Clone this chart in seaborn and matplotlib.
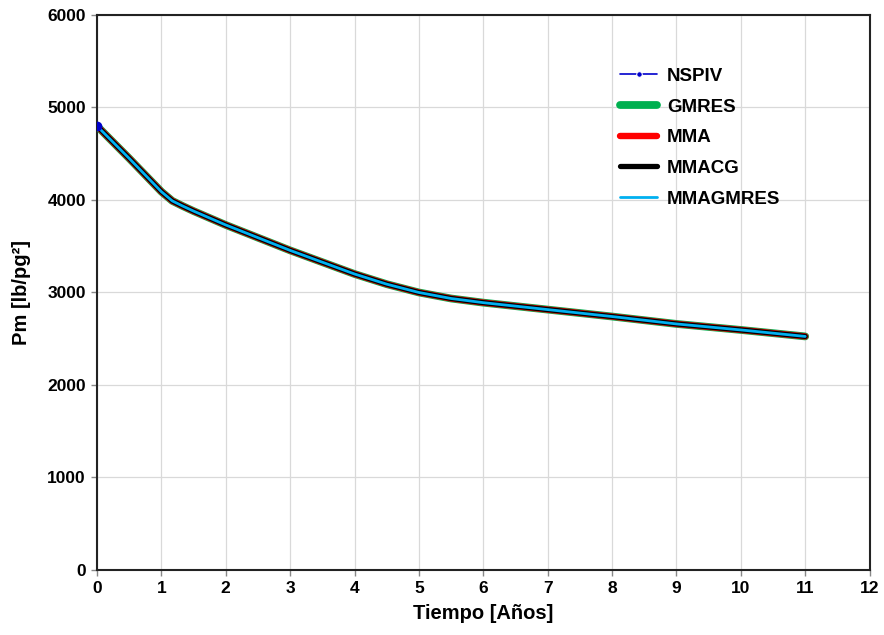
import matplotlib
matplotlib.use("Agg")
import matplotlib.pyplot as plt
import seaborn as sns
import pandas as pd
import numpy as np

sns.set_theme(style="whitegrid")
plt.rcParams['font.family'] = ['Liberation Sans', 'DejaVu Sans']
plt.rcParams['font.weight'] = 'bold'
plt.rcParams['text.color'] = 'black'
plt.rcParams['axes.labelcolor'] = 'black'
plt.rcParams['xtick.labelcolor'] = 'black'
plt.rcParams['ytick.labelcolor'] = 'black'

tiempo = [0, 0.5, 1.0, 1.17, 1.33, 1.5, 2, 3, 4, 4.5, 5, 5.5, 6, 7, 8, 9, 10, 11]
pm = [4800, 4450, 4090, 3990, 3935, 3880, 3730, 3455, 3200, 3090, 3000, 2935, 2890, 2815, 2740, 2660, 2595, 2525]
series = ["NSPIV", "GMRES", "MMA", "MMACG", "MMAGMRES"]
colors = {"NSPIV": "#0000CC", "GMRES": "#00B050", "MMA": "#FF0000",
          "MMACG": "#000000", "MMAGMRES": "#00B0F0"}
widths = {"NSPIV": 1.2, "GMRES": 5.6, "MMA": 4.6, "MMACG": 3.8, "MMAGMRES": 2.0}

df = pd.concat([pd.DataFrame({"Tiempo": tiempo, "Pm": pm, "Serie": s}) for s in series])

fig = plt.figure(figsize=(8.84, 6.35), dpi=100)
ax = fig.add_axes([0.1097, 0.1024, 0.874, 0.8740])

for i, s in enumerate(series):
    sub = df[df.Serie == s]
    kw = dict(marker='o', markersize=4, markevery=[0]) if s == "NSPIV" else {}
    sns.lineplot(data=sub, x="Tiempo", y="Pm", ax=ax, color=colors[s],
                 linewidth=widths[s], label=s, zorder=2 + i,
                 solid_capstyle='round', **kw)

first = df[df.Serie == "NSPIV"].iloc[:1]
ax.plot(first.Tiempo, first.Pm, 'o', color=colors["NSPIV"], markersize=6, zorder=10)

ax.set_xlim(0, 12)
ax.set_ylim(0, 6000)
ax.set_xticks(range(0, 13))
ax.set_yticks(range(0, 6001, 1000))
ax.grid(True, color="#d9d9d9", linewidth=0.9)
for sp in ax.spines.values():
    sp.set_color("#222222")
    sp.set_linewidth(1.5)
ax.tick_params(axis='both', which='major', labelsize=12.5, length=4, width=1,
               color="#888888", labelcolor='black', bottom=True, left=True, pad=4)
for lab in ax.get_xticklabels() + ax.get_yticklabels():
    lab.set_fontweight('bold')

ax.set_xlabel("Tiempo [Años]", fontsize=14.5, fontweight='bold', labelpad=6, color='black')
ax.set_ylabel("Pm [lb/pg²]", fontsize=14.5, fontweight='bold', labelpad=12, color='black')

handles, labels = ax.get_legend_handles_labels()
leg = ax.legend(handles, labels, loc='upper left', bbox_to_anchor=(0.655, 0.935),
                frameon=False, fontsize=13.5, handlelength=2.0, labelspacing=0.72,
                handletextpad=0.5)
for t in leg.get_texts():
    t.set_fontweight('bold')
    t.set_color('black')

fig.savefig("out.png", dpi=100)
